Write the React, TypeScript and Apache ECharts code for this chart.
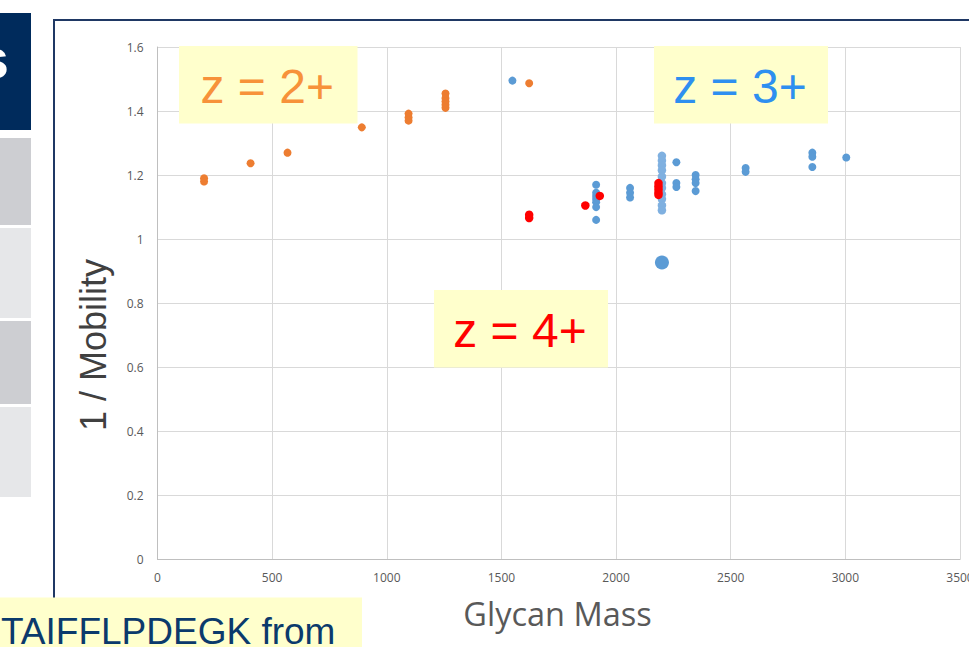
import React, { useEffect, useRef } from "react";
import * as echarts from "echarts";

const xTicks = [0, 500, 1000, 1500, 2000, 2500, 3000, 3500];
const yTicks = [0, 0.2, 0.4, 0.6, 0.8, 1, 1.2, 1.4, 1.6];

const z2Orange: number[][] = [
  [203, 1.19], [203, 1.18], [406, 1.237], [567, 1.27], [891, 1.349],
  [1095, 1.392], [1095, 1.38], [1095, 1.37],
  [1256, 1.455], [1256, 1.44], [1256, 1.43], [1256, 1.42], [1256, 1.41],
  [1621, 1.487],
];

const z3Blue: number[][] = [
  [1548, 1.495],
  [1913, 1.17], [1913, 1.145], [1913, 1.135], [1913, 1.125], [1913, 1.115], [1913, 1.1], [1913, 1.06],
  [2061, 1.16], [2061, 1.145], [2061, 1.13],
  [2263, 1.24], [2263, 1.175], [2263, 1.163],
  [2347, 1.2], [2347, 1.187], [2347, 1.175], [2347, 1.15],
  [2565, 1.222], [2565, 1.21],
  [2856, 1.27], [2856, 1.257], [2856, 1.225],
  [3004, 1.255],
];

const z3LightBlue: number[][] = [
  [2200, 1.26], [2200, 1.245], [2200, 1.23], [2200, 1.215], [2200, 1.195],
  [2200, 1.175], [2200, 1.16], [2200, 1.14], [2200, 1.125], [2200, 1.105], [2200, 1.09],
];

const z3Big: number[][] = [[2200, 0.927]];

const z4Red: number[][] = [
  [1621, 1.076], [1621, 1.066], [1866, 1.105], [1929, 1.135],
  [2185, 1.175], [2185, 1.165], [2185, 1.155], [2185, 1.145], [2185, 1.138],
];

const labelBox = (x: number, y: number, w: number, h: number, text: string, color: string) => ({
  type: "group",
  z: 10,
  children: [
    { type: "rect", shape: { x, y, width: w, height: h }, style: { fill: "#ffffcc" }, z: 10 },
    {
      type: "text",
      x: x + w / 2 - 1,
      y: y + h / 2 + 2,
      z: 11,
      style: {
        text,
        fill: color,
        font: "48px 'Liberation Sans', Arial, sans-serif",
        textAlign: "center",
        textVerticalAlign: "middle",
      },
    },
  ],
});

export default function App() {
  const ref = useRef<HTMLDivElement>(null);
  useEffect(() => {
    if (!ref.current) return;
    const chart = echarts.init(ref.current, undefined, { renderer: "svg" });
    const axisLabel = {
      color: "#595959",
      fontSize: 12,
      fontFamily: "'Open Sans', sans-serif",
      formatter: (v: number) => String(Math.round(v * 100) / 100),
    };
    chart.setOption({
      animation: false,
      backgroundColor: "#ffffff",
      grid: {
        left: 157.5,
        top: 47,
        width: 802.5,
        height: 512.3,
        containLabel: false,
        outerBoundsMode: "none",
      },
      xAxis: {
        type: "value",
        min: xTicks[0],
        max: xTicks[xTicks.length - 1],
        interval: 500,
        axisLine: { show: true, lineStyle: { color: "#bfbfbf", width: 1 } },
        axisTick: { show: false },
        splitLine: { show: true, lineStyle: { color: "#d9d9d9", width: 1 } },
        axisLabel: { ...axisLabel, margin: 12 },
      },
      yAxis: {
        type: "value",
        min: yTicks[0],
        max: yTicks[yTicks.length - 1],
        interval: 0.2,
        axisLine: { show: true, lineStyle: { color: "#bfbfbf", width: 1 } },
        axisTick: { show: false },
        splitLine: { show: true, lineStyle: { color: "#d9d9d9", width: 1 } },
        axisLabel: { ...axisLabel, margin: 14 },
      },
      series: [
        { type: "scatter", data: z3Blue, symbolSize: 8, itemStyle: { color: "#5b9bd5", opacity: 1 }, z: 3 },
        { type: "scatter", data: z3LightBlue, symbolSize: 8.5, itemStyle: { color: "#7fb0e0", opacity: 1 }, z: 3 },
        { type: "scatter", data: z3Big, symbolSize: 14, itemStyle: { color: "#5b9bd5", opacity: 1 }, z: 3 },
        { type: "scatter", data: z2Orange, symbolSize: 8, itemStyle: { color: "#ed7d31", opacity: 1 }, z: 4 },
        { type: "scatter", data: z4Red, symbolSize: 8.5, itemStyle: { color: "#ff0000", opacity: 1 }, z: 5 },
      ],
      graphic: [
        {
          type: "rect",
          z: 0,
          shape: { x: 54, y: 20, width: 1000, height: 700 },
          style: { fill: "none", stroke: "#1f3864", lineWidth: 2 },
        },
        { type: "rect", z: 20, shape: { x: 0, y: 13, width: 31, height: 117 }, style: { fill: "#002b5c" } },
        {
          type: "text",
          z: 21,
          x: 9,
          y: 58,
          style: {
            text: "s",
            fill: "#ffffff",
            font: "bold 56px 'Liberation Sans', Arial, sans-serif",
            textAlign: "right",
            textVerticalAlign: "middle",
          },
        },
        { type: "rect", z: 20, shape: { x: 0, y: 138, width: 31, height: 87 }, style: { fill: "#cdced2" } },
        { type: "rect", z: 20, shape: { x: 0, y: 228, width: 31, height: 90 }, style: { fill: "#e6e7e9" } },
        { type: "rect", z: 20, shape: { x: 0, y: 321, width: 31, height: 83 }, style: { fill: "#cdced2" } },
        { type: "rect", z: 20, shape: { x: 0, y: 407, width: 31, height: 90 }, style: { fill: "#e6e7e9" } },
        { type: "rect", z: 20, shape: { x: 0, y: 597.5, width: 362, height: 60 }, style: { fill: "#ffffcc" } },
        {
          type: "text",
          z: 21,
          x: 1,
          y: 631,
          style: {
            text: "TAIFFLPDEGK from",
            fill: "#0b3a6c",
            font: "37px 'Liberation Sans', Arial, sans-serif",
            lineHeight: 28,
            textAlign: "left",
            textVerticalAlign: "middle",
          },
        },
        {
          type: "text",
          z: 5,
          x: 93,
          y: 345,
          rotation: Math.PI / 2,
          style: {
            text: "1 / Mobility",
            fill: "#404040",
            font: "36px 'Liberation Sans', Arial, sans-serif",
            textAlign: "center",
            textVerticalAlign: "middle",
          },
        },
        {
          type: "text",
          z: 5,
          x: 557.5,
          y: 613,
          style: {
            text: "Glycan Mass",
            fill: "#595959",
            font: "32.5px 'Open Sans', sans-serif",
            textAlign: "center",
            textVerticalAlign: "middle",
          },
        },
        labelBox(179, 46, 178.5, 77.5, "z = 2+", "#f7923a"),
        labelBox(654, 46, 174, 77.5, "z = 3+", "#2e8ff0"),
        labelBox(434, 290, 174, 77.5, "z = 4+", "#ff0000"),
      ],
    });
    return () => chart.dispose();
  }, []);
  return <div ref={ref} style={{ position: "absolute", left: 0, top: 0, width: 969, height: 647 }} />;
}
